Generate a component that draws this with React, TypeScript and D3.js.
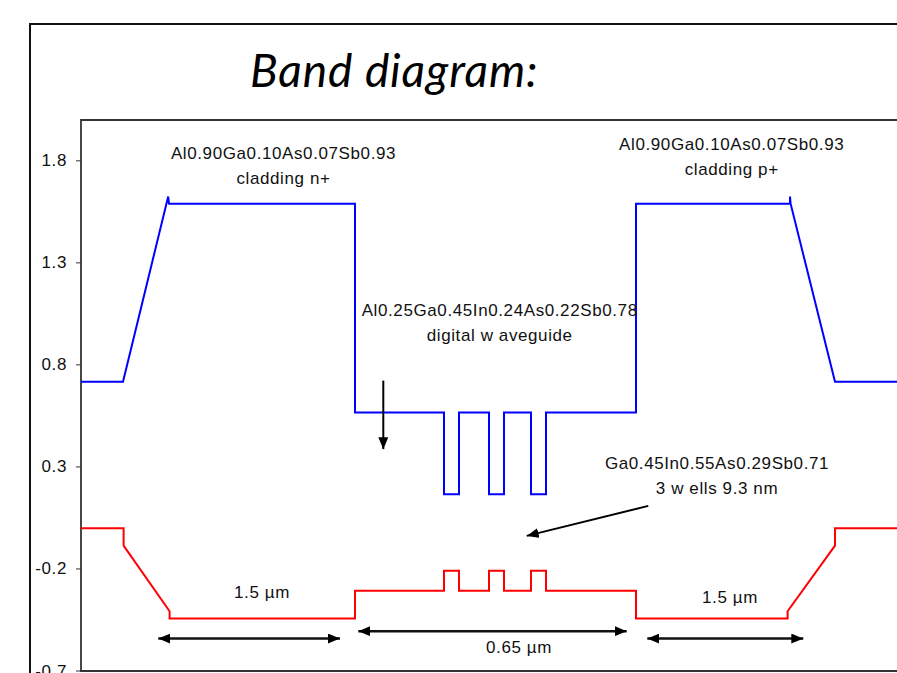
import React from "react";
import * as d3 from "d3";

const W = 897;
const H = 673;

// Band edges along the growth direction: [position (arb. units), energy (eV)]
const conductionBand: [number, number][] = [
  [0, 0.717], [21, 0.717], [43.6, 1.625], [44, 1.59], [137, 1.59], [137, 0.567],
  [181.5, 0.567], [181.5, 0.166], [189, 0.166], [189, 0.567],
  [204, 0.567], [204, 0.166], [211.5, 0.166], [211.5, 0.567],
  [225, 0.567], [225, 0.166], [232.5, 0.166], [232.5, 0.567],
  [277.5, 0.567], [277.5, 1.59], [354.5, 1.59], [354.5, 1.625], [354.8, 1.59],
  [377, 0.717], [420, 0.717],
];

const valenceBand: [number, number][] = [
  [0, 0.0], [21.3, 0.0], [21.3, -0.086], [44.3, -0.407], [44.3, -0.443],
  [137, -0.443], [137, -0.307],
  [181.5, -0.307], [181.5, -0.209], [189, -0.209], [189, -0.307],
  [204, -0.307], [204, -0.209], [211.5, -0.209], [211.5, -0.307],
  [225, -0.307], [225, -0.209], [232.5, -0.209], [232.5, -0.307],
  [277.5, -0.307], [277.5, -0.443], [353.3, -0.443], [353.3, -0.407],
  [377, -0.086], [377, 0.0], [420, 0.0],
];

const energyTicks = [-0.7, -0.2, 0.3, 0.8, 1.3, 1.8];

// Text annotations: anchor [position, energy] and lines
const labelPos: [number, number][] = [
  [101.25, 1.808],
  [325.35, 1.853],
  [209.35, 1.042],
  [318, 0.291],
  [90.5, -0.343],
  [219, -0.613],
  [324.5, -0.368],
];
const labelLines: string[][] = [
  ["Al0.90Ga0.10As0.07Sb0.93", "cladding n+"],
  ["Al0.90Ga0.10As0.07Sb0.93", "cladding p+"],
  ["Al0.25Ga0.45In0.24As0.22Sb0.78", "digital w aveguide"],
  ["Ga0.45In0.55As0.29Sb0.71", "3 w ells 9.3 nm"],
  ["1.5 µm"],
  ["0.65 µm"],
  ["1.5 µm"],
];

// Pointer arrows: [from, to] in [position, energy]
const pointers: [[number, number], [number, number]][] = [
  [[151.15, 0.723], [151.15, 0.387]],
  [[283.65, 0.109], [222.85, -0.038]],
];

// Thickness spans (double-headed): [start, end, energy]
const spans: [number, number, number][] = [
  [38.65, 129.5, -0.541],
  [138.65, 272.85, -0.505],
  [283.15, 361.15, -0.541],
];

const TITLE = "Band diagram:";

export default function App() {
  const left = 81;
  const top = 120;
  const bottom = 671;

  const x = d3.scaleLinear().domain([0, 415]).range([left, 911]);
  const y = d3.scaleLinear().domain([-0.7, 2.0]).range([bottom, top]);

  const line = d3
    .line<[number, number]>()
    .x((d) => x(d[0]))
    .y((d) => y(d[1]));

  const font = "'Liberation Sans', Arial, sans-serif";
  const fmt = (v: number) => d3.format(".1f")(v).replace("\u2212", "-");

  return (
    <svg
      width={W}
      height={H}
      style={{ position: "absolute", left: 0, top: 0, background: "#fff" }}
    >
      <defs>
        <marker
          id="head"
          viewBox="0 0 12 10"
          refX="12"
          refY="5"
          markerWidth="12"
          markerHeight="10"
          markerUnits="userSpaceOnUse"
          orient="auto-start-reverse"
        >
          <path d="M0,0 L12,5 L0,10 Z" fill="#000" />
        </marker>
      </defs>

      <rect x={0} y={0} width={W} height={H} fill="#fff" />

      {/* outer slide frame */}
      <path d={`M30,${H} L30,24 L${W},24`} fill="none" stroke="#111" strokeWidth={2} />

      <text
        x={250}
        y={87}
        fontFamily="Lato, 'Open Sans', sans-serif"
        fontStyle="italic"
        fontSize={46}
        letterSpacing={0.9}
        fill="#000"
      >
        {TITLE}
      </text>

      {/* plot area border */}
      <path
        d={`M${W},${top} L${left},${top} L${left},${bottom} L${W},${bottom}`}
        fill="none"
        stroke="#333"
        strokeWidth={1.8}
      />

      {/* y axis ticks */}
      {energyTicks.map((t) => (
        <g key={t}>
          <line x1={left - 5} x2={left} y1={y(t)} y2={y(t)} stroke="#333" strokeWidth={1} />
          <text
            x={67}
            y={y(t)}
            textAnchor="end"
            dominantBaseline="central"
            fontFamily={font}
            fontSize={17}
            letterSpacing={0.6}
            fill="#111"
          >
            {fmt(t)}
          </text>
        </g>
      ))}

      <g>
        <path d={line(conductionBand) ?? ""} fill="none" stroke="#0000ff" strokeWidth={2} />
        <path d={line(valenceBand) ?? ""} fill="none" stroke="#ff0000" strokeWidth={2} />
      </g>

      {/* annotations */}
      {labelPos.map((p, i) => (
        <text
          key={i}
          x={x(p[0])}
          y={y(p[1])}
          textAnchor="middle"
          fontFamily={font}
          fontSize={17}
          letterSpacing={0.6}
          fill="#111"
        >
          {labelLines[i].map((s, j) => (
            <tspan key={j} x={x(p[0])} dy={j === 0 ? 0 : 25}>
              {s}
            </tspan>
          ))}
        </text>
      ))}

      {pointers.map(([a, b], i) => (
        <line
          key={i}
          x1={x(a[0])}
          y1={y(a[1])}
          x2={x(b[0])}
          y2={y(b[1])}
          stroke="#000"
          strokeWidth={2}
          markerEnd="url(#head)"
        />
      ))}

      {spans.map(([a, b, e], i) => (
        <line
          key={i}
          x1={x(a)}
          y1={y(e)}
          x2={x(b)}
          y2={y(e)}
          stroke="#111"
          strokeWidth={2.5}
          markerStart="url(#head)"
          markerEnd="url(#head)"
        />
      ))}
    </svg>
  );
}
